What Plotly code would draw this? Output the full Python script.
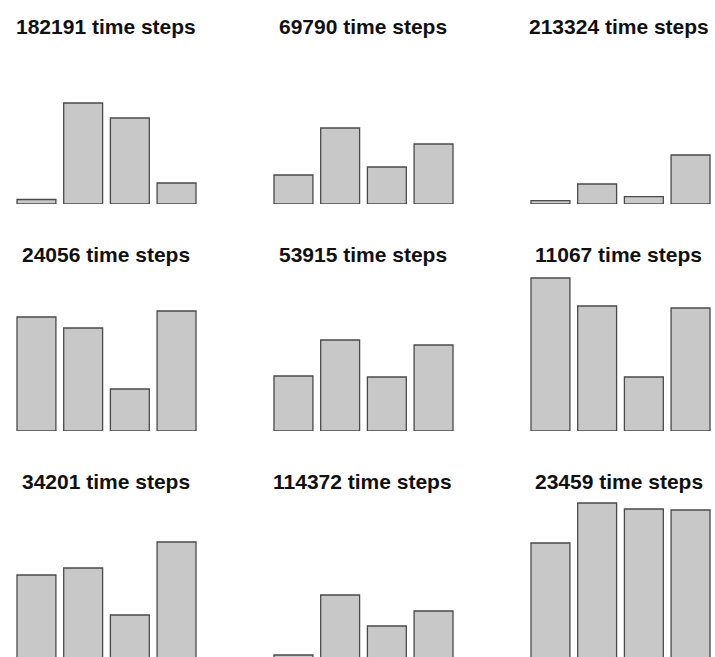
import plotly.graph_objects as go

# ---- data ----
categories = ["1", "2", "3", "4"]
time_steps = [182191, 69790, 213324, 24056, 53915, 11067, 34201, 114372, 23459]
p_182191 = [4.5, 101, 86, 21]
p_69790 = [29, 76, 37, 60]
p_213324 = [3.3, 20, 7.3, 49]
p_24056 = [114, 103, 42, 120]
p_53915 = [55, 91, 54, 86]
p_11067 = [153, 125, 54, 123]
p_34201 = [83, 90, 43, 116]
p_114372 = [3, 63, 32, 47]
p_23459 = [115, 155, 149, 148]
panels = [p_182191, p_69790, p_213324, p_24056, p_53915,
          p_11067, p_34201, p_114372, p_23459]
titles = [f"{n} time steps" for n in time_steps]
y_max = 159

# ---- layout geometry (page pixels) ----
W, H = 715, 657
col_first_center = [36.45, 293.45, 550.45]
cat_px = 46.7
row_base = [204, 431, 658]
title_center_x = [106, 362.5, 618.5]
title_center_y = [26.5, 254, 481.5]

fig = go.Figure()
annotations = []
layout_axes = {}
for i, vals in enumerate(panels):
    r, c = divmod(i, 3)
    k = i + 1
    xa = "x" if k == 1 else f"x{k}"
    ya = "y" if k == 1 else f"y{k}"
    fig.add_trace(go.Bar(
        x=categories, y=vals, xaxis=xa, yaxis=ya,
        marker=dict(color="#c8c8c8", line=dict(color="#4a4a4a", width=1.3)),
        showlegend=False, hoverinfo="skip"))
    cx = col_first_center[c]
    left_px = max(cx - 30, 0)
    right_px = min(cx + 3 * cat_px + 30, W)
    base = row_base[r]
    top_px = base - y_max
    bot_px = min(base, H)
    xkey = "xaxis" if k == 1 else f"xaxis{k}"
    ykey = "yaxis" if k == 1 else f"yaxis{k}"
    layout_axes[xkey] = dict(
        domain=[left_px / W, right_px / W], type="category",
        range=[(left_px - cx) / cat_px, (right_px - cx) / cat_px],
        visible=False, anchor=ya, fixedrange=True)
    layout_axes[ykey] = dict(
        domain=[1 - bot_px / H, 1 - top_px / H],
        range=[base - bot_px, y_max],
        visible=False, anchor=xa, fixedrange=True)
    annotations.append(dict(
        text=f"<b>{titles[i]}</b>", xref="paper", yref="paper",
        x=title_center_x[c] / W, y=1 - title_center_y[r] / H,
        xanchor="center", yanchor="middle", showarrow=False,
        font=dict(family="Liberation Sans, Arial, sans-serif", size=21, color="#111")))

fig.update_layout(
    width=W, height=H, margin=dict(l=0, r=0, t=0, b=0),
    paper_bgcolor="white", plot_bgcolor="white", hovermode=False,
    bargap=0.2 / 1.2, annotations=annotations, **layout_axes)

fig.write_html(
    "out.html",
    config={"displayModeBar": False, "staticPlot": True},
    post_script="document.body.style.margin='0px';document.body.style.overflow='hidden';")
